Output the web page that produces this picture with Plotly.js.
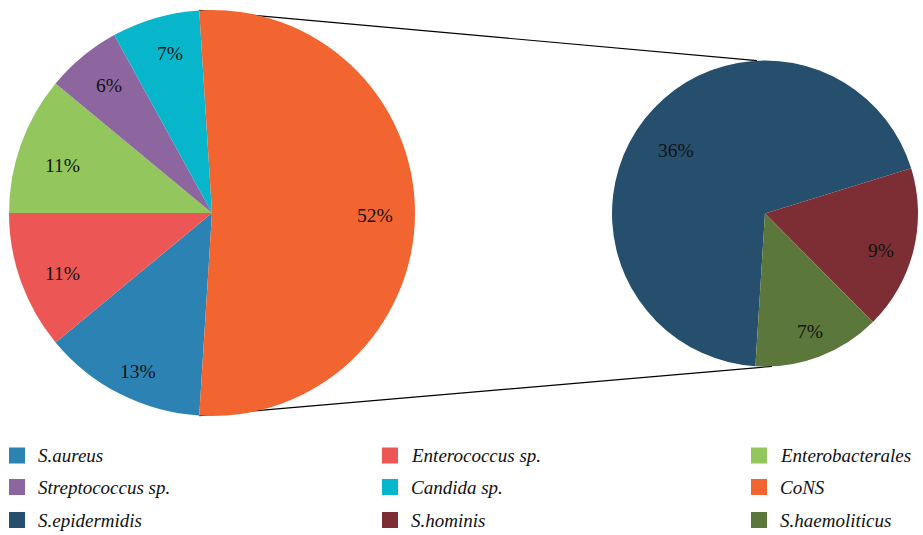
<!DOCTYPE html>
<html>
<head>
<meta charset="utf-8">
<script src="https://cdn.plot.ly/plotly-3.0.1.min.js"></script>
<style>html,body{margin:0;padding:0;background:#fff;}#chart{width:923px;height:535px;}</style>
</head>
<body>
<div id="chart"></div>
<script>
// ---- data ----
const mainLabels = ["S.aureus", "Enterococcus sp.", "Enterobacterales", "Streptococcus sp.", "Candida sp.", "CoNS"];
const mainValues = [13, 11, 11, 6, 7, 52];
const mainColors = ["#2C83B3", "#EC5755", "#93C65C", "#8D669F", "#07B6CB", "#F26530"];

const subLabels = ["S.epidermidis", "S.hominis", "S.haemoliticus"];
const subValues = [36, 9, 7];
const subColors = ["#264F6E", "#7D2E34", "#5B773B"];

// ---- geometry / style ----
const W = 923, H = 535;
const L = {cx: 212, cy: 213, r: 203};
const R = {cx: 765, cy: 213.5, r: 153};
const mainRotation = 183.6;
const subRotation = 183.6;
// label placement (radial fraction, angular nudge in degrees)
const mainLabelR = [0.862, 0.794, 0.773, 0.81, 0.815, 0.803];
const mainLabelDA = [-2, -2.2, -2, 0.7, 1.4, 0.9];
const subLabelR = [0.709, 0.799, 0.824];
const subLabelDA = [-3, 3.8, -0.4];
const fontFam = 'Liberation Serif';

function domainOf(p) {
  return {
    x: [(p.cx - p.r) / W, (p.cx + p.r) / W],
    y: [1 - (p.cy + p.r) / H, 1 - (p.cy - p.r) / H]
  };
}

const traces = [
  {
    type: 'pie', labels: mainLabels, values: mainValues, sort: false,
    direction: 'clockwise', rotation: mainRotation,
    marker: {colors: mainColors, line: {width: 0}},
    textinfo: 'none', domain: domainOf(L), hoverinfo: 'label+value', showlegend: false
  },
  {
    type: 'pie', labels: subLabels, values: subValues, sort: false,
    direction: 'clockwise', rotation: subRotation,
    marker: {colors: subColors, line: {width: 0}},
    textinfo: 'none', domain: domainOf(R), hoverinfo: 'label+value', showlegend: false
  }
];

function pt(p, deg, f) {
  const t = deg * Math.PI / 180;
  const rr = p.r * (f === undefined ? 1 : f);
  return [p.cx + rr * Math.sin(t), p.cy - rr * Math.cos(t)];
}

const annotations = [];
const shapes = [];
const labFont = {family: fontFam, size: 19.5, color: '#111'};

// percentage labels placed at each slice's mid-angle
function addSliceLabels(p, values, rot, fr, da) {
  const tot = values.reduce((a, b) => a + b, 0);
  let acc = 0;
  values.forEach((v, i) => {
    const mid = rot + 360 * (acc + v / 2) / tot + da[i];
    acc += v;
    const q = pt(p, mid, fr[i]);
    annotations.push({xref: 'paper', yref: 'paper', x: q[0] / W, y: 1 - q[1] / H,
      xanchor: 'center', yanchor: 'middle', showarrow: false, text: v + '%', font: labFont});
  });
}
addSliceLabels(L, mainValues, mainRotation, mainLabelR, mainLabelDA);
addSliceLabels(R, subValues, subRotation, subLabelR, subLabelDA);

// connector lines: from the edges of the exploded (last) slice of the main pie
const total = mainValues.reduce((a, b) => a + b, 0);
const before = mainValues.slice(0, -1).reduce((a, b) => a + b, 0);
const aStart = mainRotation + 360 * before / total;
const aEnd = mainRotation + 360;
const lt = pt(L, aStart), lb = pt(L, aEnd);
const rt = pt(R, -3), rb = pt(R, 177.4);
shapes.push(
  {type: 'line', xref: 'paper', yref: 'paper', layer: 'below',
   x0: lt[0] / W, y0: 1 - lt[1] / H, x1: rt[0] / W, y1: 1 - rt[1] / H, line: {color: '#000', width: 1.2}},
  {type: 'line', xref: 'paper', yref: 'paper', layer: 'below',
   x0: lb[0] / W, y0: 1 - lb[1] / H, x1: rb[0] / W, y1: 1 - rb[1] / H, line: {color: '#000', width: 1.2}}
);

// legend: 3 columns
const legLabels = mainLabels.concat(subLabels);
const legColors = mainColors.concat(subColors);
const colX = [9, 382, 751];
const rowY = [455.5, 487, 520];
legLabels.forEach((lab, i) => {
  const c = i % 3, rr = Math.floor(i / 3);
  const x = colX[c], y = rowY[rr];
  shapes.push({type: 'rect', xref: 'paper', yref: 'paper',
    x0: x / W, x1: (x + 16) / W, y0: 1 - (y + 8) / H, y1: 1 - (y - 8) / H,
    fillcolor: legColors[i], line: {width: 0}});
  annotations.push({xref: 'paper', yref: 'paper', x: (x + 27) / W, y: 1 - y / H,
    xanchor: 'left', yanchor: 'middle', showarrow: false, text: '<i>' + lab + '</i>',
    font: {family: fontFam, size: 19, color: '#111'}});
});

const layout = {
  width: W, height: H, margin: {l: 0, r: 0, t: 0, b: 0},
  paper_bgcolor: '#fff', showlegend: false,
  font: {family: fontFam},
  shapes: shapes, annotations: annotations
};

Plotly.newPlot('chart', traces, layout, {displayModeBar: false, staticPlot: true});
</script>
</body>
</html>
